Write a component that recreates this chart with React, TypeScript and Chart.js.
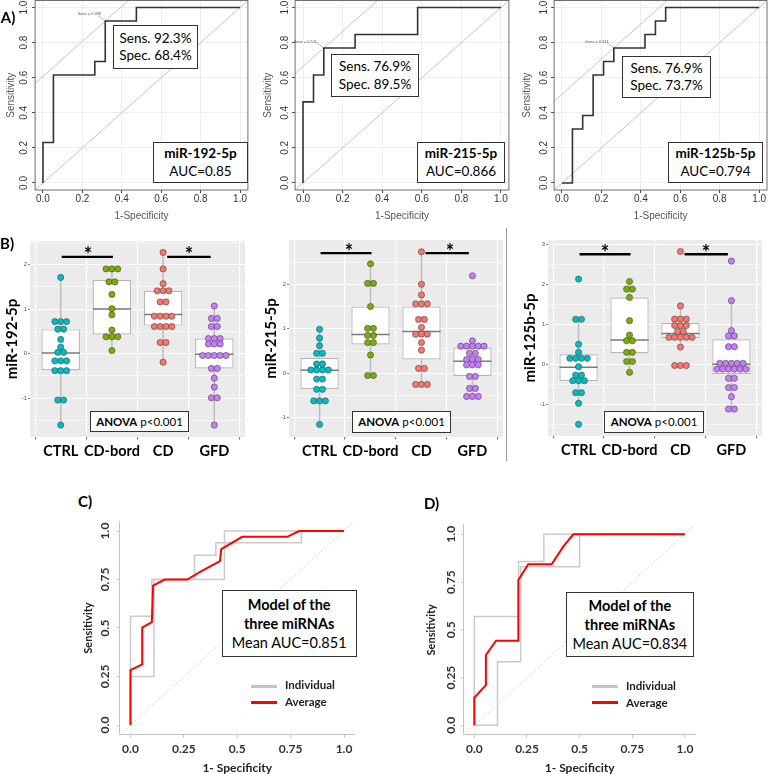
import React, { useEffect, useRef } from "react";
import { Chart, registerables } from "chart.js";
Chart.register(...registerables);

// ================= DATA =================
// Panel A – single miRNA ROC curves
const rocNames = ["miR-192-5p", "miR-215-5p", "miR-125b-5p"];
const rocAuc = ["0.85", "0.866", "0.794"];
const rocSens = [92.3, 76.9, 76.9];
const rocSpec = [68.4, 89.5, 73.7];
const rocThres = ["0.398", "0.511", "0.341"];
const rocAxisTicks = [0, 0.2, 0.4, 0.6, 0.8, 1.0];

const roc192Fpr = [0, 0, 0.053, 0.053, 0.263, 0.263, 0.316, 0.316, 0.474, 0.474, 1];
const roc192Tpr = [0, 0.231, 0.231, 0.615, 0.615, 0.692, 0.692, 0.923, 0.923, 1, 1];
const roc215Fpr = [0, 0, 0.053, 0.053, 0.105, 0.105, 0.263, 0.263, 0.579, 0.579, 1];
const roc215Tpr = [0, 0.462, 0.462, 0.615, 0.615, 0.769, 0.769, 0.846, 0.846, 1, 1];
const roc125Fpr = [0, 0.053, 0.053, 0.105, 0.105, 0.158, 0.158, 0.211, 0.211, 0.263, 0.263, 0.421, 0.421, 0.474, 0.474, 0.526, 0.526, 1];
const roc125Tpr = [0, 0, 0.308, 0.308, 0.385, 0.385, 0.615, 0.615, 0.692, 0.692, 0.769, 0.769, 0.846, 0.846, 0.923, 0.923, 1, 1];

// Panel B – expression dot/box plots
const groups = ["CTRL", "CD-bord", "CD", "GFD"];
const groupColors = ["#00BFC4", "#7CAE00", "#F8766D", "#C77CFF"];

const b192Ctrl = [1.71, 0.72, 0.72, 0.72, 0.55, 0.55, 0.32, 0.15, 0.03, 0.03, -0.16, -0.16, -0.16, -0.38, -0.38, -0.38, -1.04, -1.04, -1.6];
const b192CdBord = [1.9, 1.9, 1.9, 1.61, 1.61, 1.33, 1.01, 0.87, 0.53, 0.38, 0.38, 0.38, 0.07];
const b192Cd = [2.27, 1.9, 1.57, 1.41, 1.41, 1.41, 1.16, 1.16, 0.84, 0.84, 0.84, 0.84, 0.61, 0.61, 0.61, 0.61, 0.25, 0.25, -0.19];
const b192Gfd = [1.07, 0.79, 0.79, 0.61, 0.61, 0.34, 0.34, 0.34, 0.22, 0.22, 0.22, -0.04, -0.04, -0.04, -0.04, -0.04, -0.33, -0.33, -0.55, -0.75, -0.99, -0.99, -1.6];
const b192Q1 = [-0.37, 0.43, 0.63, -0.33];
const b192Med = [0.015, 1.0, 0.88, -0.01];
const b192Q3 = [0.545, 1.65, 1.41, 0.34];
const b192Lo = [-1.6, 0.07, -0.19, -1.6];
const b192Hi = [1.71, 1.9, 2.27, 1.07];
const b192YTicks = [-1, 0, 1, 2];

const b215Ctrl = [0.99, 0.79, 0.62, 0.45, 0.45, 0.21, 0.21, 0.075, 0.075, 0.075, 0.075, -0.13, -0.13, -0.36, -0.36, -0.62, -0.62, -0.62, -1.15];
const b215CdBord = [2.46, 2.02, 2.02, 1.5, 1.01, 1.01, 0.85, 0.85, 0.69, 0.69, 0.41, -0.05, -0.05];
const b215Cd = [2.73, 2.0, 1.76, 1.56, 1.56, 1.56, 1.21, 1.21, 1.03, 0.88, 0.88, 0.88, 0.69, 0.52, 0.11, 0.11, -0.25, -0.25, -0.25];
const b215Gfd = [2.19, 0.73, 0.61, 0.61, 0.61, 0.61, 0.61, 0.45, 0.45, 0.31, 0.31, 0.31, 0.19, 0.19, 0.19, -0.07, -0.07, -0.34, -0.34, -0.52, -0.52, -0.52];
const b215Q1 = [-0.35, 0.65, 0.31, -0.06];
const b215Med = [0.07, 0.87, 0.94, 0.27];
const b215Q3 = [0.35, 1.5, 1.5, 0.58];
const b215Lo = [-1.15, -0.05, -0.25, -0.52];
const b215Hi = [0.99, 2.46, 2.73, 0.73];
const b215YTicks = [-1, 0, 1, 2];

const b125Ctrl = [2.13, 1.125, 1.125, 0.5, 0.3, 0.15, 0.15, 0.15, 0.15, -0.06, -0.27, -0.27, -0.41, -0.41, -0.41, -0.71, -0.71, -0.975, -1.5];
const b125CdBord = [2.07, 1.88, 1.88, 1.67, 1.09, 0.73, 0.59, 0.59, 0.3, 0.3, 0.07, 0.07, -0.2];
const b125Cd = [2.82, 1.46, 1.13, 1.13, 1.13, 0.97, 0.97, 0.97, 0.82, 0.82, 0.675, 0.675, 0.675, 0.675, 0.675, 0.43, -0.03, -0.03, -0.03];
const b125Gfd = [2.58, 1.59, 0.84, 0.71, 0.71, 0.44, 0.44, 0.025, 0.025, 0.025, 0.025, 0.025, -0.12, -0.12, -0.12, -0.12, -0.12, -0.12, -0.35, -0.35, -0.58, -0.58, -0.81, -1.12, -1.12];
const b125Q1 = [-0.42, 0.275, 0.65, -0.24];
const b125Med = [-0.075, 0.61, 0.77, 0.0];
const b125Q3 = [0.25, 1.67, 1.03, 0.625];
const b125Lo = [-0.975, -0.2, 0.43, -1.12];
const b125Hi = [1.125, 2.07, 1.46, 1.59];
const b125YTicks = [-1, 0, 1, 2, 3];

const sigPairs = [[1.02, 2.02], [3.08, 3.93]];
const sigLevels = [2.17, 2.7, 2.75];

// Panels C / D – model ROC curves
const modelAuc = ["0.851", "0.834"];
const modelTickVals = [0, 0.25, 0.5, 0.75, 1];
const modelTickLabels = ["0.0", "0.25", "0.5", "0.75", "1.0"];

const cAvgFpr = [0, 0, 0.055, 0.055, 0.1, 0.106, 0.16, 0.266, 0.328, 0.419, 0.425, 0.523, 0.734, 0.79, 1];
const cAvgTpr = [0, 0.283, 0.313, 0.502, 0.53, 0.718, 0.75, 0.75, 0.79, 0.845, 0.907, 0.97, 0.97, 1, 1];
const cInd1Fpr = [0, 0, 0.1, 0.1, 0.3, 0.3, 0.4, 0.4, 0.44, 0.44, 1];
const cInd1Tpr = [0, 0.56, 0.56, 0.75, 0.75, 0.875, 0.875, 0.94, 0.94, 1, 1];
const cInd2Fpr = [0, 0, 0.11, 0.11, 0.44, 0.44, 0.8, 0.8, 1];
const cInd2Tpr = [0, 0.25, 0.25, 0.75, 0.75, 0.94, 0.94, 1, 1];

const dAvgFpr = [0, 0, 0.055, 0.055, 0.103, 0.209, 0.209, 0.256, 0.367, 0.422, 0.47, 1];
const dAvgTpr = [0, 0.145, 0.21, 0.368, 0.443, 0.443, 0.761, 0.843, 0.843, 0.935, 1, 1];
const dInd1Fpr = [0, 0, 0.21, 0.21, 0.33, 0.33, 1];
const dInd1Tpr = [0, 0.57, 0.57, 0.857, 0.857, 1, 1];
const dInd2Fpr = [0, 0.11, 0.11, 0.22, 0.22, 0.5, 0.5, 1];
const dInd2Tpr = [0, 0, 0.333, 0.333, 0.83, 0.83, 1, 1];

// ================= HELPERS =================
const pts = (xs: number[], ys: number[]) => xs.map((x, i) => ({ x, y: ys[i] }));
const dotStep = 0.114;
const boxHalf = 0.375;

function stackDots(vals: number[], center: number) {
  const counts = new Map<number, number>();
  vals.forEach((v) => counts.set(v, (counts.get(v) || 0) + 1));
  const seen = new Map<number, number>();
  return vals.map((v) => {
    const n = counts.get(v) || 1;
    const i = seen.get(v) || 0;
    seen.set(v, i + 1);
    return { x: center + (i - (n - 1) / 2) * dotStep, y: v };
  });
}

const framePlugin = {
  id: "frame",
  afterDraw(chart: any) {
    const { ctx, chartArea: a } = chart;
    ctx.save();
    ctx.strokeStyle = "#6f6f6f";
    ctx.lineWidth = 1;
    ctx.strokeRect(a.left, a.top, a.right - a.left, a.bottom - a.top);
    ctx.restore();
  },
};

const panelBgPlugin = {
  id: "panelBg",
  beforeDraw(chart: any) {
    const { ctx, chartArea: a } = chart;
    ctx.save();
    ctx.fillStyle = "#EBEBEB";
    ctx.fillRect(a.left, a.top, a.right - a.left, a.bottom - a.top);
    ctx.restore();
  },
};

function rotYTicks(offset: number, font: string, color: string, fmt: (v: number) => string) {
  return {
    id: "rotY",
    afterDraw(chart: any) {
      const s = chart.scales.y;
      const ctx = chart.ctx;
      ctx.save();
      ctx.font = font;
      ctx.fillStyle = color;
      ctx.textAlign = "center";
      ctx.textBaseline = "middle";
      s.ticks.forEach((t: any) => {
        const py = s.getPixelForValue(t.value);
        ctx.save();
        ctx.translate(chart.chartArea.left - offset, py);
        ctx.rotate(-Math.PI / 2);
        ctx.fillText(fmt(t.value), 0, 0);
        ctx.restore();
      });
      ctx.restore();
    },
  };
}

const noPlug = { legend: { display: false }, tooltip: { enabled: false } };

// ---------- Panel A config ----------
function rocAConfig(fpr: number[], tpr: number[], sens: number, spec: number, g: any) {
  const bx = 1 - spec / 100;
  const by = sens / 100;
  const b = by - bx;
  const lo = -0.04;
  const hi = 1.04;
  const thin = { type: "scatter", showLine: true, pointRadius: 0, borderWidth: 1, borderColor: "#c4c4c4", order: 2 };
  const lib = "Liberation Sans";
  return {
    type: "scatter",
    data: {
      datasets: [
        { type: "scatter", data: pts(fpr, tpr), showLine: true, pointRadius: 0, borderWidth: 1.6, borderColor: "#333", order: 0 },
        { ...thin, data: [{ x: lo, y: lo }, { x: hi, y: hi }] },
        { ...thin, data: [{ x: lo, y: lo + b }, { x: hi - b, y: hi }] },
        { type: "scatter", data: [{ x: bx - 0.035, y: by + 0.03 }, { x: bx, y: by }], showLine: true, pointRadius: 0, borderWidth: 0.6, borderColor: "#888", order: 1 },
      ],
    },
    options: {
      responsive: false,
      animation: false,
      devicePixelRatio: 1,
      layout: { autoPadding: false, padding: { left: 0, top: g.top, right: g.W - g.right, bottom: 0 } },
      plugins: noPlug,
      scales: {
        x: {
          type: "linear", min: lo, max: hi, bounds: "data", offset: false,
          afterBuildTicks: (s: any) => { s.ticks = rocAxisTicks.map((v) => ({ value: v })); },
          afterFit: (s: any) => { s.height = g.H - g.bottom; },
          grid: { color: "#eeeeee", tickColor: "#444", tickLength: 3 },
          border: { display: false },
          ticks: { autoSkip: false, maxRotation: 0, minRotation: 0, padding: 0, color: "#333", font: { family: lib, size: 10 }, callback: (v: any) => Number(v).toFixed(1) },
          title: { display: true, text: "1-Specificity", color: "#555", font: { family: lib, size: 10 }, padding: { top: 0, bottom: 0 } },
        },
        y: {
          type: "linear", min: lo, max: hi, bounds: "data",
          afterBuildTicks: (s: any) => { s.ticks = rocAxisTicks.map((v) => ({ value: v })); },
          afterFit: (s: any) => { s.width = g.left; },
          grid: { color: "#eeeeee", tickColor: "#444", tickLength: 3 },
          border: { display: false },
          ticks: { display: false },
          title: { display: true, text: "Sensitivity", color: "#555", font: { family: lib, size: 10 }, padding: { top: g.yTitlePad, bottom: 0 } },
        },
      },
    },
    plugins: [framePlugin, rotYTicks(g.yTickOff, `10px "${lib}"`, "#333", (v) => v.toFixed(1))],
  };
}

// ---------- Panel B config ----------
function boxConfig(name: string, vals: number[][], q1: number[], med: number[], q3: number[], wlo: number[], whi: number[], yTicks: number[], sigY: number, g: any) {
  const datasets: any[] = [];
  vals.forEach((v, i) =>
    datasets.push({ type: "scatter", data: stackDots(v, i + 1), pointRadius: 3.1, pointHoverRadius: 3.1, pointBackgroundColor: groupColors[i], pointBorderColor: "#454545", pointBorderWidth: 0.6, showLine: false, order: 0 })
  );
  sigPairs.forEach(([a, b]) =>
    datasets.push({ type: "scatter", data: [{ x: a, y: sigY }, { x: b, y: sigY }], showLine: true, borderColor: "#000", borderWidth: 2.4, pointRadius: 0, order: 0 })
  );
  med.forEach((m, i) =>
    datasets.push({ type: "scatter", data: [{ x: i + 1 - boxHalf, y: m }, { x: i + 1 + boxHalf, y: m }], showLine: true, borderColor: "#7a7a7a", borderWidth: 1.5, pointRadius: 0, order: 1 })
  );
  datasets.push({
    type: "bar", data: q1.map((v, i) => ({ x: i + 1, y: [v, q3[i]] })), backgroundColor: "#ffffff", borderColor: "#b6b6b6",
    borderWidth: 1.2, borderSkipped: false, barPercentage: 0.75, categoryPercentage: 1, order: 2,
  });
  wlo.forEach((v, i) =>
    datasets.push({ type: "scatter", data: [{ x: i + 1, y: v }, { x: i + 1, y: whi[i] }], showLine: true, borderColor: "#bdbdbd", borderWidth: 1.5, pointRadius: 0, order: 3 })
  );
  const yMin = g.yMin;
  const yMax = g.yMax;
  const allY: number[] = [];
  yTicks.forEach((t) => { allY.push(t); });
  yTicks.forEach((t) => { allY.push(t - 0.5); allY.push(t + 0.5); });
  const gridY = Array.from(new Set(allY)).filter((v) => v > yMin && v < yMax).sort((a, b) => a - b);
  const isMajor = (v: number) => yTicks.includes(v);
  return {
    type: "scatter",
    data: { datasets },
    options: {
      responsive: false,
      animation: false,
      devicePixelRatio: 1,
      layout: { autoPadding: false, padding: { left: 0, top: g.top, right: g.W - g.right, bottom: 0 } },
      plugins: noPlug,
      scales: {
        x: {
          type: "linear", min: 0.4, max: 4.6, bounds: "data", offset: false,
          afterBuildTicks: (s: any) => { s.ticks = groups.map((_, i) => ({ value: i + 1 })); },
          afterFit: (s: any) => { s.height = g.H - g.bottom; },
          grid: { color: "#ffffff", lineWidth: 1.1, tickColor: "#777", tickLength: 2.5 },
          border: { display: false },
          ticks: { autoSkip: false, maxRotation: 0, minRotation: 0, padding: 3.5, color: "#000", font: { family: "Lato", size: 14.5, weight: "bold" }, callback: (v: any) => groups[Math.round(Number(v)) - 1] },
        },
        y: {
          type: "linear", min: yMin, max: yMax, bounds: "data",
          afterBuildTicks: (s: any) => { s.ticks = gridY.map((v) => ({ value: v })); },
          afterFit: (s: any) => { s.width = g.left; },
          grid: {
            color: "#ffffff",
            lineWidth: (c: any) => (isMajor(c.tick.value) ? 1.1 : 0.55),
            tickColor: (c: any) => (isMajor(c.tick.value) ? "#777" : "rgba(0,0,0,0)"),
            tickLength: 2,
          },
          border: { display: false },
          ticks: { autoSkip: false, padding: 1, color: "#555", font: { family: "Liberation Sans", size: 6 }, callback: (v: any) => (isMajor(Number(v)) ? String(v) : "") },
          title: { display: true, text: name, color: "#000", font: { family: "Lato", size: 15, weight: "bold" }, padding: { top: g.yTitlePad, bottom: 0 } },
        },
      },
    },
    plugins: [panelBgPlugin],
  };
}

// ---------- Panels C/D config ----------
function modelConfig(avgF: number[], avgT: number[], inds: number[][][], g: any) {
  const lo = -0.05;
  const hi = 1.05;
  const datasets: any[] = [
    { type: "scatter", data: pts(avgF, avgT), showLine: true, borderColor: "#FF0000", borderWidth: 2, pointRadius: 0, order: 0 },
    ...inds.map(([f, t]) => ({ type: "scatter", data: pts(f, t), showLine: true, borderColor: "#cbcbcb", borderWidth: 1.5, pointRadius: 0, order: 1 })),
    { type: "scatter", data: [{ x: lo, y: lo }, { x: hi, y: hi }], showLine: true, borderColor: "#d2d2d2", borderWidth: 1, borderDash: [2, 2], pointRadius: 0, order: 2 },
  ];
  const tickFont = { family: "Lato", size: 12, weight: "bold" };
  return {
    type: "scatter",
    data: { datasets },
    options: {
      responsive: false,
      animation: false,
      devicePixelRatio: 1,
      layout: { autoPadding: false, padding: { left: 0, top: g.top, right: g.W - g.right, bottom: 0 } },
      plugins: noPlug,
      scales: {
        x: {
          type: "linear", min: lo, max: hi, bounds: "data", offset: false,
          afterBuildTicks: (s: any) => { s.ticks = modelTickVals.map((v) => ({ value: v })); },
          afterFit: (s: any) => { s.height = g.H - g.bottom; },
          grid: { drawOnChartArea: false, tickColor: "#c4c4c4", tickLength: 3 },
          border: { display: true, color: "#c4c4c4", width: 1 },
          ticks: { autoSkip: false, maxRotation: 0, minRotation: 0, padding: 4, color: "#333", font: tickFont, callback: (v: any) => modelTickLabels[modelTickVals.indexOf(Number(v))] },
          title: { display: true, text: "1- Specificity", color: "#222", font: { family: "Lato", size: 12, weight: "bold", lineHeight: 1 }, padding: { top: 0, bottom: 0 } },
        },
        y: {
          type: "linear", min: lo, max: hi, bounds: "data",
          afterBuildTicks: (s: any) => { s.ticks = modelTickVals.map((v) => ({ value: v })); },
          afterFit: (s: any) => { s.width = g.left; },
          grid: { drawOnChartArea: false, tickColor: "#c4c4c4", tickLength: 3 },
          border: { display: true, color: "#c4c4c4", width: 1 },
          ticks: { display: false },
          title: { display: true, text: "Sensitivity", color: "#222", font: { family: "Lato", size: 11, weight: "bold" }, padding: { top: g.yTitlePad, bottom: 0 } },
        },
      },
    },
    plugins: [rotYTicks(g.yTickOff, 'bold 12px "Lato"', "#333", (v) => modelTickLabels[modelTickVals.indexOf(v)])],
  };
}

// ================= COMPONENTS =================
function ChartBox({ x, y, w, h, make }: any) {
  const ref = useRef<HTMLCanvasElement>(null);
  useEffect(() => {
    const chart = new Chart(ref.current as HTMLCanvasElement, make());
    return () => chart.destroy();
  }, []);
  return <canvas ref={ref} width={w} height={h} style={{ position: "absolute", left: x, top: y, width: w, height: h, display: "block" }} />;
}

const T = ({ x, y, size, bold, family = "Lato", color = "#000", left, children }: any) => (
  <div
    style={{
      position: "absolute", left: x, top: y,
      transform: left ? "translate(0,-50%)" : "translate(-50%,-50%)",
      fontFamily: family, fontSize: size, fontWeight: bold ? 700 : 400, color, whiteSpace: "nowrap", lineHeight: 1,
    }}
  >
    {children}
  </div>
);

const Box = ({ x, y, w, h, size, lh, children }: any) => (
  <div
    style={{
      position: "absolute", left: x, top: y, width: w, height: h, boxSizing: "border-box", border: "1px solid #333", background: "#fff",
      display: "flex", flexDirection: "column", alignItems: "center", justifyContent: "center",
      fontFamily: "Lato", fontSize: size, lineHeight: `${lh}px`, color: "#000", whiteSpace: "nowrap",
    }}
  >
    {children}
  </div>
);

const LegendLine = ({ x, y, color }: any) => (
  <div style={{ position: "absolute", left: x, top: y - 1.5, width: 26, height: 3, background: color }} />
);

export default function App() {
  const rocData = [
    [roc192Fpr, roc192Tpr],
    [roc215Fpr, roc215Tpr],
    [roc125Fpr, roc125Tpr],
  ];
  const rocGeom = [
    { cx: 0, W: 256, H: 222, left: 35.1, right: 247.9, top: 0.5, bottom: 190, yTitlePad: 5, yTickOff: 11 },
    { cx: 256, W: 256, H: 222, left: 39.1, right: 252.9, top: 0.5, bottom: 190, yTitlePad: 6, yTickOff: 10 },
    { cx: 512, W: 256, H: 222, left: 42.1, right: 255, top: 0.5, bottom: 190, yTitlePad: 9, yTickOff: 10 },
  ];
  const sensBoxes = [
    { x: 113, y: 25, w: 85, h: 44 },
    { x: 331, y: 54, w: 88, h: 43 },
    { x: 622, y: 56, w: 89, h: 42 },
  ];
  const aucBoxes = [
    { x: 153, y: 142, w: 95, h: 41 },
    { x: 417, y: 142, w: 88, h: 41 },
    { x: 668, y: 142, w: 95, h: 41 },
  ];
  const thresPos = [
    { x: 89.5, y: 14 },
    { x: 305.5, y: 42 },
    { x: 597, y: 42 },
  ];

  const boxSets = [
    { name: "miR-192-5p", vals: [b192Ctrl, b192CdBord, b192Cd, b192Gfd], q1: b192Q1, med: b192Med, q3: b192Q3, lo: b192Lo, hi: b192Hi, ticks: b192YTicks },
    { name: "miR-215-5p", vals: [b215Ctrl, b215CdBord, b215Cd, b215Gfd], q1: b215Q1, med: b215Med, q3: b215Q3, lo: b215Lo, hi: b215Hi, ticks: b215YTicks },
    { name: "miR-125b-5p", vals: [b125Ctrl, b125CdBord, b125Cd, b125Gfd], q1: b125Q1, med: b125Med, q3: b125Q3, lo: b125Lo, hi: b125Hi, ticks: b125YTicks },
  ];
  const boxGeom = [
    { cx: 0, W: 256, H: 250, left: 30, right: 245, top: 16, bottom: 212, yTitlePad: 3, yMin: -1.868, yMax: 2.527 },
    { cx: 256, W: 256, H: 250, left: 33, right: 247, top: 15, bottom: 212, yTitlePad: 6, yMin: -1.431, yMax: 2.995 },
    { cx: 512, W: 256, H: 250, left: 36, right: 250, top: 15, bottom: 211, yTitlePad: 9, yMin: -1.7925, yMax: 3.1075 },
  ];
  const starPos = [
    [{ x: 88, y: 254 }, { x: 189, y: 254 }],
    [{ x: 349, y: 251 }, { x: 450, y: 251 }],
    [{ x: 605, y: 252 }, { x: 706, y: 252 }],
  ];
  const anovaBoxes = [
    { x: 90, y: 411, w: 99, h: 21 },
    { x: 352, y: 411, w: 99, h: 21.5 },
    { x: 604, y: 411, w: 100, h: 21.5 },
  ];

  const cGeom = { W: 310, H: 264, left: 59.8, right: 294.7, top: 11.3, bottom: 224.7, yTitlePad: 21.4, yTickOff: 14.8 };
  const dGeom = { W: 320, H: 264, left: 63.8, right: 295.5, top: 14.75, bottom: 224.85, yTitlePad: 25.1, yTickOff: 12.8 };

  return (
    <div style={{ position: "fixed", left: 0, top: 0, width: 768, height: 774, background: "#fff", overflow: "hidden" }}>
      {rocGeom.map((g, i) => (
        <ChartBox key={"a" + i} x={g.cx} y={0} w={g.W} h={g.H} make={() => rocAConfig(rocData[i][0], rocData[i][1], rocSens[i], rocSpec[i], g)} />
      ))}
      {boxGeom.map((g, i) => {
        const d = boxSets[i];
        return (
          <ChartBox key={"b" + i} x={g.cx} y={225} w={g.W} h={g.H} make={() => boxConfig(d.name, d.vals, d.q1, d.med, d.q3, d.lo, d.hi, d.ticks, sigLevels[i], g)} />
        );
      })}
      <ChartBox x={60} y={510} w={cGeom.W} h={cGeom.H} make={() => modelConfig(cAvgFpr, cAvgTpr, [[cInd1Fpr, cInd1Tpr], [cInd2Fpr, cInd2Tpr]], cGeom)} />
      <ChartBox x={400} y={510} w={dGeom.W} h={dGeom.H} make={() => modelConfig(dAvgFpr, dAvgTpr, [[dInd1Fpr, dInd1Tpr], [dInd2Fpr, dInd2Tpr]], dGeom)} />

      {/* Panel letters */}
      <T x={8} y={17} size={15} bold>A)</T>
      <T x={7} y={243} size={15} bold>B)</T>
      <T x={85} y={501} size={15} bold>C)</T>
      <T x={431.5} y={503} size={15} bold>D)</T>

      {/* Panel A annotations */}
      {thresPos.map((p, i) => (
        <T key={"t" + i} x={p.x} y={p.y} size={4} family="Liberation Sans" color="#555">{`thres = ${rocThres[i]}`}</T>
      ))}
      {sensBoxes.map((b, i) => (
        <Box key={"s" + i} x={b.x} y={b.y} w={b.w} h={b.h} size={13.5} lh={17.3}>
          <div>{`Sens. ${rocSens[i].toFixed(1)}%`}</div>
          <div>{`Spec. ${rocSpec[i].toFixed(1)}%`}</div>
        </Box>
      ))}
      {aucBoxes.map((b, i) => (
        <Box key={"u" + i} x={b.x} y={b.y} w={b.w} h={b.h} size={13.5} lh={17.7}>
          <div style={{ fontWeight: 700 }}>{rocNames[i]}</div>
          <div>{`AUC=${rocAuc[i]}`}</div>
        </Box>
      ))}

      {/* Panel B annotations */}
      {starPos.map((ps, i) =>
        ps.map((p, j) => (
          <T key={"st" + i + j} x={p.x} y={p.y} size={20} bold>*</T>
        ))
      )}
      {anovaBoxes.map((b, i) => (
        <Box key={"an" + i} x={b.x} y={b.y} w={b.w} h={b.h} size={11.5} lh={14}>
          <div><span style={{ fontWeight: 700 }}>ANOVA</span> p&lt;0.001</div>
        </Box>
      ))}
      <div style={{ position: "absolute", left: 505.5, top: 228, width: 1.5, height: 233, background: "#9a9a9a" }} />

      {/* Panels C / D annotations */}
      <Box x={221.7} y={590} w={135} h={66.7} size={14.5} lh={19}>
        <div style={{ fontWeight: 700 }}>Model of the</div>
        <div style={{ fontWeight: 700 }}>three miRNAs</div>
        <div>{`Mean AUC=${modelAuc[0]}`}</div>
      </Box>
      <Box x={565.7} y={591.7} w={128.3} h={65.6} size={14.5} lh={19}>
        <div style={{ fontWeight: 700 }}>Model of the</div>
        <div style={{ fontWeight: 700 }}>three miRNAs</div>
        <div>{`Mean AUC=${modelAuc[1]}`}</div>
      </Box>
      <LegendLine x={251} y={686} color="#c4c4c4" />
      <LegendLine x={251} y={702} color="#FF0000" />
      <T x={285} y={685} size={11.5} bold left color="#222">Individual</T>
      <T x={285} y={702} size={11.5} bold left color="#222">Average</T>
      <LegendLine x={592} y={686.7} color="#c4c4c4" />
      <LegendLine x={592} y={702.5} color="#FF0000" />
      <T x={626} y={686} size={11.5} bold left color="#222">Individual</T>
      <T x={626} y={702.5} size={11.5} bold left color="#222">Average</T>
    </div>
  );
}
